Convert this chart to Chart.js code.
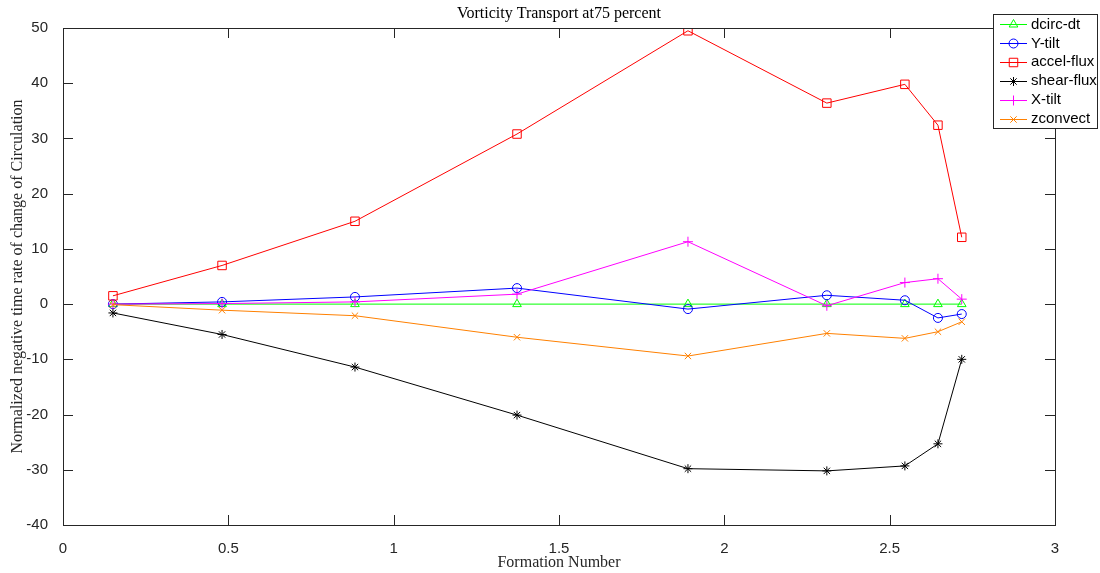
<!DOCTYPE html>
<html>
<head>
<meta charset="utf-8">
<script src="https://cdn.jsdelivr.net/npm/chart.js@4.4.1/dist/chart.umd.min.js"></script>
<style>
  html, body { margin: 0; padding: 0; background: #fff; }
  #wrap { width: 1100px; height: 573px; position: relative; }
</style>
</head>
<body>
<div id="wrap"><canvas id="c" width="1100" height="573"></canvas></div>
<script>
// Formation numbers sampled
const formation = [0.151, 0.481, 0.883, 1.373, 1.890, 2.310, 2.546, 2.646, 2.718];

// Normalized negative time rate of change of circulation, per term
const dcircDt   = [0, 0, 0, 0, 0, 0, 0, 0, 0];
const yTilt     = [0.0, 0.4, 1.3, 2.9, -0.9, 1.6, 0.7, -2.5, -1.8];
const accelFlux = [1.5, 7.0, 15.0, 30.8, 49.5, 36.4, 39.8, 32.4, 12.1];
const shearFlux = [-1.6, -5.5, -11.4, -20.1, -29.8, -30.2, -29.3, -25.3, -10.0];
const xTilt     = [0.0, 0.1, 0.4, 1.8, 11.3, -0.3, 3.9, 4.6, 0.9];
const zconvect  = [-0.1, -1.1, -2.1, -6.0, -9.4, -5.3, -6.2, -5.0, -3.2];

const seriesNames = ['dcirc-dt', 'Y-tilt', 'accel-flux', 'shear-flux', 'X-tilt', 'zconvect'];
const xTicks = [0, 0.5, 1, 1.5, 2, 2.5, 3];
const yTicks = [-40, -30, -20, -10, 0, 10, 20, 30, 40, 50];

const titleText = 'Vorticity Transport at75 percent';
const xTitle = 'Formation Number';
const yTitle = 'Normalized negative time rate of change of Circulation';

const serif = '"Liberation Serif", "DejaVu Serif", serif';
const sans = '"Liberation Sans", Arial, Helvetica, sans-serif';

const styles = [
  { color: '#00ff00', marker: 'triangle', r: 5 },
  { color: '#0000ff', marker: 'circle', r: 4.5 },
  { color: '#ff0000', marker: 'rect', r: 6 },
  { color: '#000000', marker: 'star', r: 4.5 },
  { color: '#ff00ff', marker: 'cross', r: 5 },
  { color: '#ff8000', marker: 'crossRot', r: 4.5 }
];
const values = [dcircDt, yTilt, accelFlux, shearFlux, xTilt, zconvect];

const datasets = values.map((v, i) => ({
  label: seriesNames[i],
  data: v.map((y, j) => ({ x: formation[j], y })),
  borderColor: styles[i].color,
  backgroundColor: 'rgba(0,0,0,0)',
  pointBorderColor: styles[i].color,
  pointBackgroundColor: 'rgba(0,0,0,0)',
  pointStyle: styles[i].marker,
  pointRadius: styles[i].r,
  pointBorderWidth: 1,
  borderWidth: 1,
  tension: 0,
  fill: false,
  order: values.length - 1 - i
}));

// Box with inward ticks on all four sides, plus the title above the plot
const frame = {
  id: 'frame',
  afterDraw(chart) {
    const { ctx, chartArea: a, scales } = chart;
    const tl = 10;
    ctx.save();
    ctx.strokeStyle = '#262626';
    ctx.lineWidth = 1;
    ctx.beginPath();
    xTicks.forEach(t => {
      const px = Math.round(scales.x.getPixelForValue(t)) + 0.5;
      ctx.moveTo(px, a.bottom); ctx.lineTo(px, a.bottom - tl);
      ctx.moveTo(px, a.top); ctx.lineTo(px, a.top + tl);
    });
    yTicks.forEach(t => {
      const py = Math.round(scales.y.getPixelForValue(t)) + 0.5;
      ctx.moveTo(a.left, py); ctx.lineTo(a.left + tl, py);
      ctx.moveTo(a.right, py); ctx.lineTo(a.right - tl, py);
    });
    ctx.stroke();
    ctx.strokeRect(Math.round(a.left) + 0.5, Math.round(a.top) + 0.5,
                   Math.round(a.right - a.left), Math.round(a.bottom - a.top));
    ctx.fillStyle = '#000';
    ctx.font = '16px ' + serif;
    ctx.textAlign = 'center';
    ctx.textBaseline = 'middle';
    ctx.fillText(titleText, (a.left + a.right) / 2, 14);
    ctx.restore();
  }
};

// Legend box in the upper-right corner
const legendBox = {
  id: 'legendBox',
  afterDraw(chart) {
    const { ctx } = chart;
    const x0 = 993, y0 = 14, w = 104, h = 114;
    ctx.save();
    ctx.fillStyle = '#fff';
    ctx.fillRect(x0, y0, w, h);
    ctx.strokeStyle = '#262626';
    ctx.lineWidth = 1;
    ctx.strokeRect(x0 + 0.5, y0 + 0.5, w, h);
    ctx.font = '15px ' + sans;
    ctx.textBaseline = 'middle';
    ctx.textAlign = 'left';
    chart.data.datasets.forEach((ds, i) => {
      const cy = y0 + 10 + i * 18.9;
      const py = Math.round(cy) + 0.5;
      ctx.strokeStyle = ds.borderColor;
      ctx.lineWidth = 1;
      ctx.beginPath();
      ctx.moveTo(x0 + 7, py); ctx.lineTo(x0 + 34, py);
      ctx.stroke();
      ctx.fillStyle = 'rgba(0,0,0,0)';
      Chart.helpers.drawPoint(ctx, {
        pointStyle: ds.pointStyle, radius: ds.pointRadius, rotation: 0, borderWidth: 1
      }, x0 + 20.5, py);
      ctx.fillStyle = '#000';
      ctx.fillText(ds.label, x0 + 38, cy + 0.5);
    });
    ctx.restore();
  }
};

new Chart(document.getElementById('c'), {
  type: 'line',
  data: { datasets },
  options: {
    responsive: false,
    animation: false,
    devicePixelRatio: 1,
    layout: { padding: { top: 28, right: 45, left: 0, bottom: 0 } },
    plugins: {
      legend: { display: false },
      title: { display: false },
      tooltip: { enabled: false }
    },
    scales: {
      x: {
        type: 'linear',
        min: 0, max: 3,
        afterBuildTicks: s => { s.ticks = xTicks.map(v => ({ value: v })); },
        afterFit: s => { s.height = 48; },
        grid: { display: false },
        border: { display: false },
        ticks: {
          color: '#262626',
          font: { family: sans, size: 15 },
          padding: 7,
          maxRotation: 0,
          autoSkip: false,
          callback: v => String(v)
        },
        title: {
          display: true,
          text: xTitle,
          color: '#262626',
          font: { family: serif, size: 16 },
          padding: { top: 0, bottom: 1 }
        }
      },
      y: {
        type: 'linear',
        min: -40, max: 50,
        afterBuildTicks: s => { s.ticks = yTicks.map(v => ({ value: v })); },
        afterFit: s => { s.width = 63; },
        grid: { display: false },
        border: { display: false },
        ticks: {
          color: '#262626',
          font: { family: sans, size: 15 },
          padding: 7,
          autoSkip: false,
          callback: v => String(v)
        },
        title: {
          display: true,
          text: yTitle,
          color: '#262626',
          font: { family: serif, size: 16 },
          padding: { top: 8, bottom: 0 }
        }
      }
    }
  },
  plugins: [frame, legendBox]
});
</script>
</body>
</html>
